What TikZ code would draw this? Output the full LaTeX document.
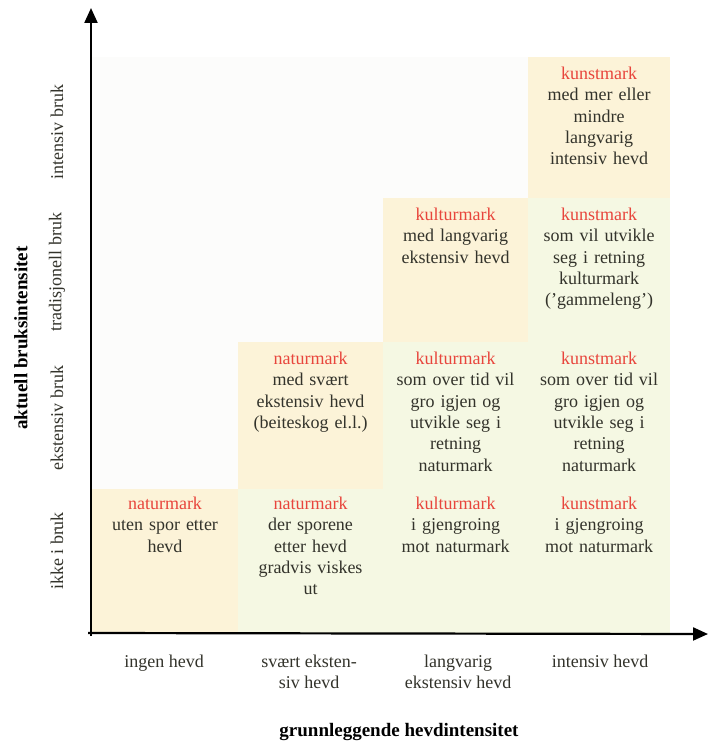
\documentclass[tikz,border=0pt]{standalone}
\usepackage{fontspec}
\setmainfont{Liberation Serif}
\usetikzlibrary{arrows.meta}
\definecolor{cellA}{HTML}{FCF3D8}
\definecolor{cellB}{HTML}{F5F8E3}
\definecolor{emptyc}{HTML}{FCFCFB}
\definecolor{redtxt}{HTML}{E8453C}
\definecolor{bodytxt}{HTML}{33332B}
\newcommand{\rt}[1]{\textcolor{redtxt}{#1}}
\begin{document}
\begin{tikzpicture}[x=1pt,y=-1pt,
  celltxt/.style={anchor=north, text width=140pt, align=center, inner sep=0pt,
    font=\fontsize{18}{21.3}\selectfont, text=bodytxt},
  xlab/.style={anchor=north, align=center, inner sep=0pt,
    font=\fontsize{18}{21.3}\selectfont, text=bodytxt},
  ylab/.style={rotate=90, inner sep=0pt, font=\fontsize{18}{21.3}\selectfont, text=bodytxt},
  axistitle/.style={inner sep=0pt, font=\fontsize{19}{22}\selectfont\bfseries, text=black},
  axisline/.style={line width=2.2pt, -{Triangle[length=15pt,width=13pt]}}]
\useasboundingbox (0,0) rectangle (709,743);
\fill[white] (0,0) rectangle (709,743);
% empty area
\fill[emptyc] (92,57) rectangle (528,489);
% cells
\fill[cellA] (92,489) rectangle (238,633);
\fill[cellB] (238,489) rectangle (383,633);
\fill[cellB] (383,489) rectangle (528,633);
\fill[cellB] (528,489) rectangle (670,633);
\fill[cellA] (238,342) rectangle (383,489);
\fill[cellB] (383,342) rectangle (528,489);
\fill[cellB] (528,342) rectangle (670,489);
\fill[cellA] (383,198) rectangle (528,342);
\fill[cellB] (528,198) rectangle (670,342);
\fill[cellA] (528,57) rectangle (670,198);
% axes
\coordinate (O) at (91,636);
\coordinate (Ox) at (88,633);
\coordinate (ytip) at (91,8);
\coordinate (xtip) at (708,634);
\draw[axisline] (O) -- (ytip);
\draw[axisline] (Ox) -- (xtip);
% cell texts
\node[celltxt] (n11) at (165,497) {\rt{naturmark}\\uten spor etter\\hevd};
\node[celltxt] (n12) at (310.5,497) {\rt{naturmark}\\der sporene\\etter hevd\\gradvis viskes\\ut};
\node[celltxt] (n13) at (455.5,497) {\rt{kulturmark}\\i gjengroing\\mot naturmark};
\node[celltxt] (n14) at (599,497) {\rt{kunstmark}\\i gjengroing\\mot naturmark};
\node[celltxt] (n22) at (310.5,352) {\rt{naturmark}\\med svært\\ekstensiv hevd\\(beiteskog el.l.)};
\node[celltxt] (n23) at (455.5,352) {\rt{kulturmark}\\som over tid vil\\gro igjen og\\utvikle seg i\\retning\\naturmark};
\node[celltxt] (n24) at (599,352) {\rt{kunstmark}\\som over tid vil\\gro igjen og\\utvikle seg i\\retning\\naturmark};
\node[celltxt] (n33) at (455.5,208) {\rt{kulturmark}\\med langvarig\\ekstensiv hevd};
\node[celltxt] (n34) at (599,208) {\rt{kunstmark}\\som vil utvikle\\seg i retning\\kulturmark\\('gammeleng')};
\node[celltxt] (n44) at (599,67) {\rt{kunstmark}\\med mer eller\\mindre\\langvarig\\intensiv hevd};
% x labels
\node[xlab] (x1) at (164,655) {ingen hevd};
\node[xlab] (x2) at (309,655) {svært eksten-\\siv hevd};
\node[xlab] (x3) at (458,655) {langvarig\\ekstensiv hevd};
\node[xlab] (x4) at (600,655) {intensiv hevd};
% y labels
\node[ylab] (y1) at (57,551) {ikke i bruk};
\node[ylab] (y2) at (57,418) {ekstensiv bruk};
\node[ylab] (y3) at (57,272) {tradisjonell bruk};
\node[ylab] (y4) at (57,132) {intensiv bruk};
% axis titles
\node[axistitle, rotate=90] (ytitle) at (21,338) {aktuell bruksintensitet};
\node[axistitle, anchor=base] (xtitle) at (399,736) {grunnleggende hevdintensitet};
\end{tikzpicture}
\end{document}
